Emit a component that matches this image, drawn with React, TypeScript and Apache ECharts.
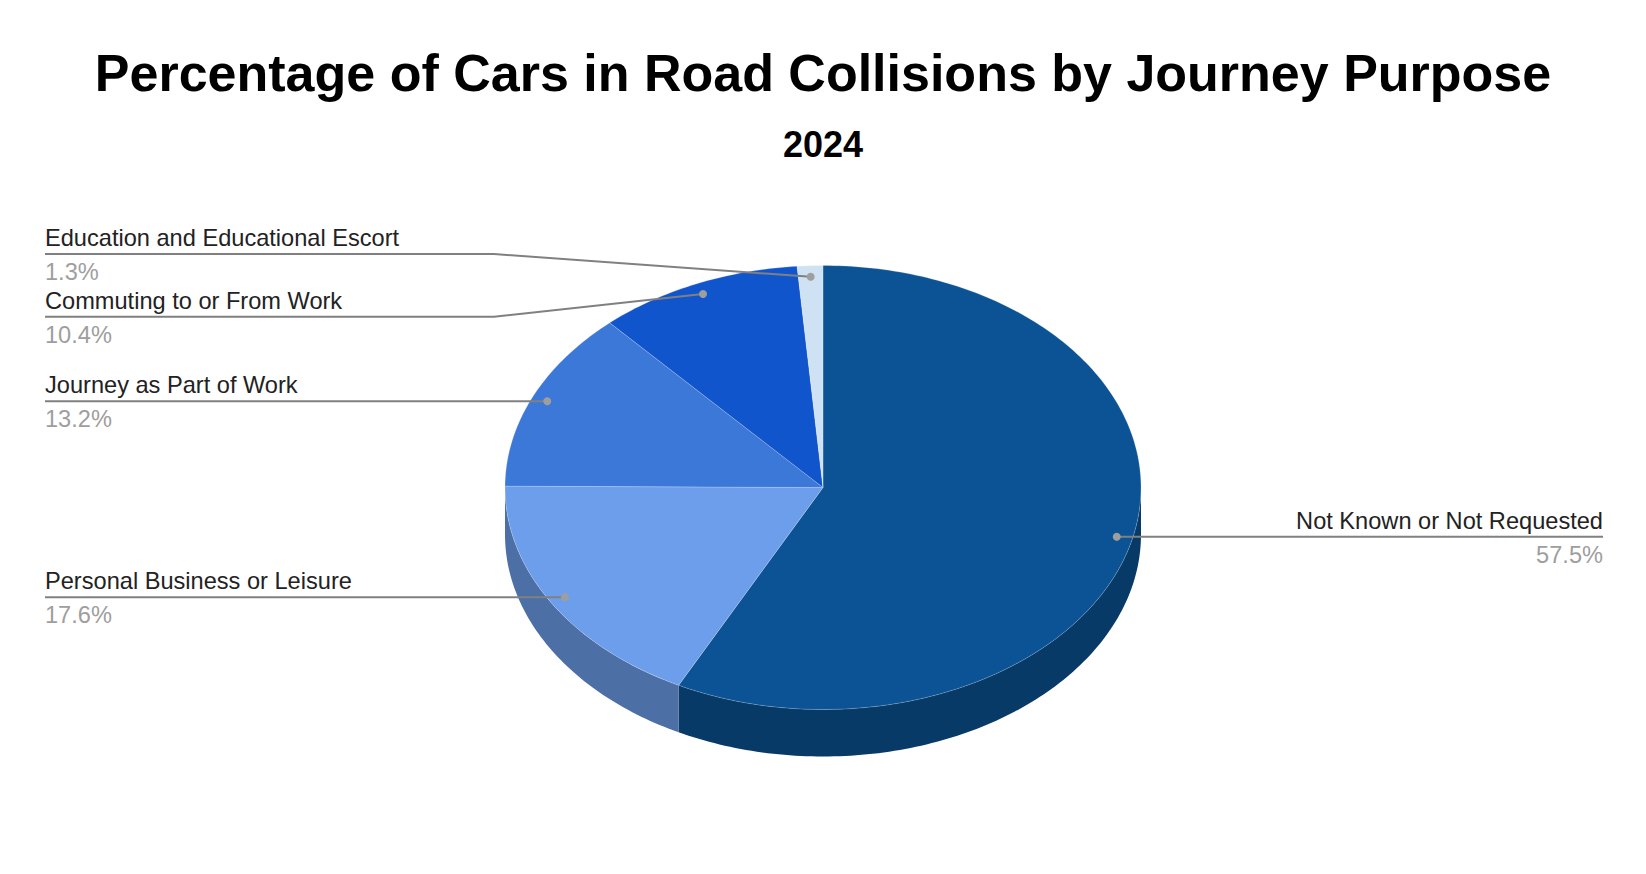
import React, { useEffect, useRef } from 'react';
import * as echarts from 'echarts';

// journey purposes, in the order the slices run clockwise from 12 o'clock
const categories = [
    'Not Known or Not Requested',
    'Personal Business or Leisure',
    'Journey as Part of Work',
    'Commuting to or From Work',
    'Education and Educational Escort',
];
const shares = [57.5, 17.6, 13.2, 10.4, 1.3];
const topColors = ['#0b5394', '#6d9eeb', '#3c78d8', '#1155cc', '#cfe2f3'];
const sideColors = ['#083a68', '#4c6fa5', '#2a5497', '#0c3b8f', '#919ea9'];

const FONT = "'Liberation Sans', Arial, sans-serif";

// geometry of the tilted pie
const CX = 823, CY = 487.5, RX = 318, RY = 222, DEPTH = 47;
const DOT_K = 0.95;
const LABEL_GAP = 62.7;
const LABEL_SIZE = 23.6;
const LEFT_X = 45, LEFT_BEND = 494, RIGHT_X = 1603, RIGHT_BEND = 1152;

const total = shares.reduce((a, b) => a + b, 0);

const pt = (deg: number, k = 1, dy = 0): number[] => {
    const r = (deg * Math.PI) / 180;
    return [CX + RX * k * Math.sin(r), CY - RY * k * Math.cos(r) + dy];
};

const arc = (a0: number, a1: number, dy = 0): number[][] => {
    const pts: number[][] = [];
    const n = Math.max(2, Math.ceil(Math.abs(a1 - a0)));
    for (let s = 0; s <= n; s++) pts.push(pt(a0 + ((a1 - a0) * s) / n, 1, dy));
    return pts;
};

type Slice = { a0: number; a1: number; dot: number[]; left: boolean; lineY: number };

let acc = 0;
const slices: Slice[] = shares.map((v) => {
    const a0 = (acc / total) * 360;
    acc += v;
    const a1 = (acc / total) * 360;
    const mid = (a0 + a1) / 2;
    const dot = pt(mid, DOT_K);
    return { a0, a1, dot, left: Math.sin((mid * Math.PI) / 180) < 0, lineY: dot[1] };
});

// keep labels on one side apart: group overlapping ones round their mean
const spread = (items: Slice[]) => {
    items.sort((a, b) => a.dot[1] - b.dot[1]);
    const clusters: Slice[][] = [];
    const start = (c: Slice[]) => c.reduce((s, it) => s + it.dot[1], 0) / c.length - ((c.length - 1) / 2) * LABEL_GAP;
    for (const it of items) {
        clusters.push([it]);
        while (clusters.length > 1) {
            const c = clusters[clusters.length - 1];
            const p = clusters[clusters.length - 2];
            if (start(p) + p.length * LABEL_GAP > start(c)) {
                clusters.splice(clusters.length - 2, 2, p.concat(c));
            } else break;
        }
    }
    clusters.forEach((c) => {
        const s0 = start(c);
        c.forEach((it, j) => (it.lineY = s0 + j * LABEL_GAP));
    });
};
spread(slices.filter((s) => s.left));
spread(slices.filter((s) => !s.left));

const renderItem = (params: any) => {
    const i = params.dataIndex;
    const s = slices[i];
    const children: any[] = [];

    const a = Math.max(s.a0, 90);
    const b = Math.min(s.a1, 270);
    if (b > a) {
        children.push({
            type: 'polygon',
            shape: { points: arc(a, b).concat(arc(b, a, DEPTH)) },
            style: { fill: sideColors[i] },
        });
    }
    children.push({
        type: 'polygon',
        shape: { points: [[CX, CY], ...arc(s.a0, s.a1)] },
        style: { fill: topColors[i], stroke: 'rgba(255,255,255,0.25)', lineWidth: 0.8 },
    });

    const endX = s.left ? LEFT_X : RIGHT_X;
    const bendX = s.left ? LEFT_BEND : RIGHT_BEND;
    children.push({
        type: 'polyline',
        z2: 100,
        shape: { points: [[endX, s.lineY], [bendX, s.lineY], s.dot] },
        style: { stroke: '#808080', lineWidth: 2, fill: 'none' },
    });
    children.push({
        type: 'circle',
        z2: 101,
        shape: { cx: s.dot[0], cy: s.dot[1], r: 4 },
        style: { fill: '#9e9e9e' },
    });
    const align = s.left ? 'left' : 'right';
    children.push({
        type: 'text',
        z2: 100,
        x: endX,
        y: s.lineY - 16,
        style: { text: categories[i], fill: '#222222', fontSize: LABEL_SIZE, fontFamily: FONT, align, verticalAlign: 'middle' },
    });
    children.push({
        type: 'text',
        z2: 100,
        x: endX,
        y: s.lineY + 18,
        style: {
            text: ((shares[i] / total) * 100).toFixed(1) + '%',
            fill: '#9e9e9e',
            fontSize: LABEL_SIZE,
            fontFamily: FONT,
            align,
            verticalAlign: 'middle',
        },
    });
    return { type: 'group', children };
};

const JourneyPurposePie: React.FC = () => {
    const chartRef = useRef<HTMLDivElement>(null);

    useEffect(() => {
        document.body.style.margin = '0';
        if (!chartRef.current) return;
        const chart = echarts.init(chartRef.current, null, { renderer: 'svg' });

        chart.setOption({
            animation: false,
            backgroundColor: '#ffffff',
            title: [
                {
                    text: 'Percentage of Cars in Road Collisions by Journey Purpose',
                    left: 'center',
                    top: 42,
                    textStyle: { fontFamily: FONT, fontSize: 52, fontWeight: 'bold', color: '#000000' },
                },
                {
                    text: '2024',
                    left: 'center',
                    top: 121,
                    textStyle: { fontFamily: FONT, fontSize: 36, fontWeight: 'bold', color: '#000000' },
                },
            ],
            series: [
                {
                    type: 'custom',
                    coordinateSystem: 'none',
                    silent: true,
                    data: shares.map((v, i) => ({ value: v, name: categories[i] })),
                    renderItem,
                },
            ],
        });

        return () => {
            chart.dispose();
        };
    }, []);

    return <div ref={chartRef} style={{ width: '1646px', height: '874px' }} />;
};

export default JourneyPurposePie;
